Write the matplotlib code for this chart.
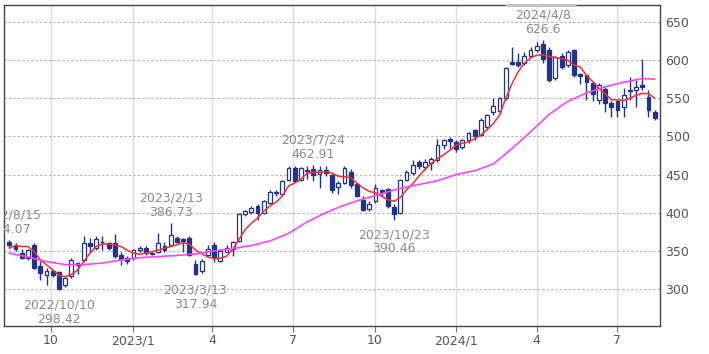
import matplotlib
matplotlib.use("Agg")
import matplotlib.pyplot as plt
import matplotlib.dates as mdates
from matplotlib.transforms import offset_copy
import pandas as pd

# 週足 2022/8/15 - 2024/8/12
weeks = pd.date_range("2022-08-15", periods=105, freq="7D")

opens = [362, 358, 347, 341, 358, 330, 318, 324, 322, 305,
         317, 332, 338, 360, 354, 362, 360, 360, 345, 341,
         340, 351, 354, 347, 349, 356, 358, 367, 366, 367,
         333, 323, 345, 358, 337, 349, 352, 363, 398, 401,
         409, 400, 413, 426, 424, 443, 459, 443, 455, 457,
         451, 456, 450, 434, 439, 454, 437, 417, 405, 415,
         430, 431, 408, 400, 443, 452, 466, 460, 465, 469,
         489, 497, 493, 486, 495, 508, 502, 513, 532, 533,
         550, 598, 598, 596, 606, 613, 621, 613, 576, 606,
         593, 613, 582, 580, 570, 548, 562, 544, 546, 539,
         560, 561, 567, 552, 532]
highs = [364.07, 360, 353, 353, 360, 337, 327, 326, 324, 316,
         340, 336, 370, 367, 369, 369, 362, 372, 349, 343,
         353, 356, 356, 349, 373, 362, 386.73, 369, 367, 369,
         338, 339, 358, 361, 352, 358, 363, 399, 404, 409,
         411, 417, 430, 430, 443, 461, 461, 460, 461, 462.91,
         461, 461, 451, 441, 461, 457, 439, 422, 415, 437,
         431, 433, 411, 444, 456, 469, 469, 470, 473, 497,
         497, 499, 495, 497, 506, 510, 524, 530, 550, 552,
         591, 617, 609, 611, 617, 624, 626.6, 617, 606, 609,
         613, 615, 583, 581, 572, 570, 565, 546, 548, 563,
         578, 574, 602, 561, 535]
lows = [355, 350, 339, 338, 326, 312, 305, 316, 298.42, 302,
        315, 320, 336, 349, 351, 351, 351, 340, 332, 333,
        338, 349, 345, 344, 347, 349, 356, 360, 349, 343,
        317.94, 321, 343, 336, 335, 348, 343, 361, 396, 398,
        391, 398, 411, 422, 422, 442, 440, 441, 444, 441,
        433, 448, 426, 424, 437, 432, 420, 402, 402, 413,
        422, 406, 390.46, 398, 441, 450, 457, 456, 456, 467,
        484, 484, 479, 484, 491, 495, 500, 508, 528, 531,
        548, 594, 591, 593, 604, 611, 596, 572, 574, 589,
        591, 578, 569, 548, 546, 543, 532, 526, 526, 526,
        548, 539, 561, 526, 522]
closes = [358, 352, 340, 351, 327, 321, 323, 318, 300, 314,
          338, 334, 360, 356, 366, 361, 354, 343, 339, 337,
          351, 354, 347, 346, 360, 351, 371, 362, 363, 345,
          320, 337, 353, 342, 350, 354, 361, 398, 402, 406,
          400, 415, 427, 427, 441, 459, 442, 458, 456, 449,
          456, 452, 430, 439, 459, 436, 422, 404, 411, 432,
          427, 409, 398, 443, 454, 463, 461, 467, 471, 489,
          495, 494, 484, 495, 504, 500, 521, 528, 540, 550,
          590, 595, 594, 606, 613, 619, 602, 574, 604, 591,
          611, 580, 579, 572, 556, 567, 544, 539, 535, 554,
          561, 565, 565, 535, 524]

# 短期移動平均 (赤)
ma_short = [353.5, 357, 355.7, 355.7, 349, 338, 331.6, 325, 318, 316,
            319, 325, 336, 347, 355.7, 358.8, 359, 357.8, 355.7, 351,
            347, 345.6, 347, 349, 351, 353.5, 355.7, 358, 361, 358.7,
            351, 346, 342, 340, 340, 343, 352, 365, 378, 386,
            393, 402, 409, 414, 422, 435, 439, 444, 452, 453,
            453, 454, 452, 448, 447, 446, 439, 432.5, 428, 426,
            421.6, 417, 415, 420, 430, 438, 448, 457, 464.5, 471,
            476, 482, 488.6, 491, 493, 497, 502, 509, 517, 528,
            550, 569, 585, 596, 603, 606.5, 607, 605, 603.5, 602,
            600, 593.5, 591, 580, 572, 563, 556, 548, 548, 547,
            550, 554, 556.5, 556, 550]

# 長期移動平均 (ピンク), 読み取った週の番号と値
ma_long_idx = [0, 3, 6, 9, 12, 15, 18, 21, 24, 27,
               30, 33, 36, 39, 42, 45, 48, 51, 54, 57,
               60, 63, 66, 69, 72, 75, 78, 81, 84, 87,
               90, 93, 96, 99, 102, 104]
ma_long = [347, 342, 336, 332, 332, 334, 338, 341, 342.5, 344,
           346, 350, 353, 357, 363, 373, 388, 400, 410, 418,
           425, 432, 437, 442, 450, 455, 464, 484, 506, 529,
           546, 557, 565, 571, 576, 575]

# 高値・安値の注記 (週の番号, 高値/安値)
marks = [(0, "high"), (8, "low"), (26, "high"), (30, "low"),
         (49, "high"), (62, "low"), (86, "high")]

tick_dates = ["2022-10-01", "2023-01-01", "2023-04-01", "2023-07-01",
              "2023-10-01", "2024-01-01", "2024-04-01", "2024-07-01"]
tick_labels = ["10", "2023/1", "4", "7", "10", "2024/1", "4", "7"]

blue = "#1e3490"

fig = plt.figure(figsize=(7.09, 3.54), dpi=100)
ax = fig.add_axes([4 / 709, 28 / 354, 656 / 709, 321 / 354])

xs = mdates.date2num(weeks.to_pydatetime())

# ヒゲ
ax.vlines(xs, lows, highs, color=blue, lw=1, zorder=2)

# 実体
bottoms = [min(o, c) for o, c in zip(opens, closes)]
heights = [max(abs(c - o), 0.7) for o, c in zip(opens, closes)]
faces = ["white" if c >= o else blue for o, c in zip(opens, closes)]
ax.bar(xs, heights, width=4.3, bottom=bottoms, color=faces,
       edgecolor=blue, linewidth=0.9, zorder=3)

ax.plot(xs, ma_short, color="#ff2b2b", lw=1.1, zorder=4)
ax.plot(xs[ma_long_idx], ma_long, color="#ff44ff", lw=1.2, zorder=4)

for i, kind in marks:
    d = weeks[i]
    if kind == "high":
        v = highs[i]
        off, va = 3, "bottom"
    else:
        v = lows[i]
        off, va = -6, "top"
    txt = "{}/{}/{}\n{:g}".format(d.year, d.month, d.day, v)
    tr = offset_copy(ax.transData, fig=fig, x=0, y=off, units="points")
    ax.text(xs[i], v, txt, transform=tr, ha="center", va=va, fontsize=9,
            color="#8a8a8a", linespacing=1.1, clip_on=True, zorder=5)

ax.set_xlim(mdates.date2num(pd.Timestamp("2022-08-09")),
            mdates.date2num(pd.Timestamp("2024-08-18")))
ax.set_ylim(251.5, 672.3)

ax.set_xticks(mdates.date2num(pd.to_datetime(tick_dates).to_pydatetime()))
ax.set_xticklabels(tick_labels)
ax.set_yticks(range(300, 651, 50))

ax.yaxis.tick_right()
ax.tick_params(axis="y", length=0, pad=4, labelsize=9, labelcolor="#555555")
ax.tick_params(axis="x", length=4, color="#777777", pad=2,
               labelsize=9, labelcolor="#555555")

ax.grid(axis="y", color="#b0b0b0", linestyle=(0, (2, 2)), lw=0.8)
ax.grid(axis="x", color="#dddddd", linestyle="-", lw=1)
ax.set_axisbelow(True)

for s in ax.spines.values():
    s.set_color("#444444")
    s.set_linewidth(1)

# 上枠のスクロール部分
ax.plot([0.764, 0.872], [1, 1], transform=ax.transAxes, color="#c4c4c4",
        lw=2.2, solid_capstyle="butt", clip_on=False, zorder=6)

fig.savefig("out.png", dpi=100)
